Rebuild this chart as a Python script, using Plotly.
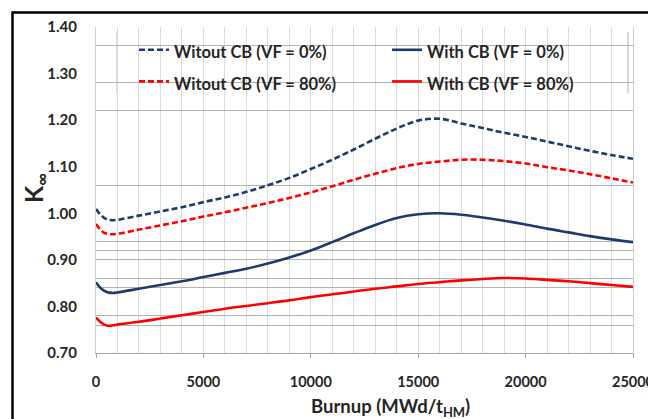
import plotly.graph_objects as go

# Burnup (MWd/tHM)
burnup = [0, 250, 500, 750, 1000, 2000, 3000, 4000, 5000, 6000, 7000, 8000, 9000, 10000,
          11000, 12000, 13000, 14000, 15000, 16000, 17000, 18000, 19000, 20000, 21000,
          22000, 23000, 24000, 25000]

witout_cb_vf0 = [1.009, 0.995, 0.987, 0.985, 0.986, 0.995, 1.004, 1.013, 1.024, 1.034, 1.046,
                 1.060, 1.076, 1.095, 1.115, 1.137, 1.160, 1.182, 1.199, 1.203, 1.193, 1.183,
                 1.173, 1.164, 1.154, 1.144, 1.134, 1.125, 1.117]
witout_cb_vf80 = [0.977, 0.963, 0.956, 0.955, 0.956, 0.965, 0.974, 0.983, 0.993, 1.002, 1.012,
                  1.022, 1.033, 1.045, 1.058, 1.072, 1.085, 1.097, 1.106, 1.111, 1.115, 1.115,
                  1.112, 1.107, 1.099, 1.092, 1.084, 1.075, 1.066]
with_cb_vf0 = [0.852, 0.838, 0.831, 0.829, 0.830, 0.838, 0.846, 0.854, 0.863, 0.872, 0.881,
               0.892, 0.905, 0.920, 0.938, 0.957, 0.975, 0.990, 0.998, 1.000, 0.997, 0.991,
               0.984, 0.976, 0.967, 0.959, 0.951, 0.944, 0.938]
with_cb_vf80 = [0.776, 0.765, 0.759, 0.759, 0.761, 0.767, 0.774, 0.781, 0.788, 0.795, 0.801,
                0.807, 0.813, 0.820, 0.826, 0.832, 0.838, 0.843, 0.848, 0.852, 0.856, 0.859,
                0.861, 0.860, 0.857, 0.854, 0.850, 0.846, 0.842]

series_names = ["Witout CB (VF = 0%)", "Witout CB (VF = 80%)",
                "With CB (VF = 0%)", "With CB (VF = 80%)"]

x_ticks = [0, 5000, 10000, 15000, 20000, 25000]
y_ticks = [0.70, 0.80, 0.90, 1.00, 1.10, 1.20, 1.30, 1.40]
y_ticktext = ["0.70", "0.80", "0.90", "1.00", "1.10", "1.20", "1.30", "1.40"]
grid_y = [0.76, 0.78, 0.84, 0.86, 0.90, 0.92, 0.94, 1.06, 1.22, 1.28, 1.36]

NAVY = "#1F3A6E"
RED = "#FF0000"
FONT = "Lato"
TXT = "#262626"

fig = go.Figure()
styles = [
    (witout_cb_vf0, NAVY, "6px,3px", "legend"),
    (witout_cb_vf80, RED, "6px,3px", "legend"),
    (with_cb_vf0, NAVY, "solid", "legend2"),
    (with_cb_vf80, RED, "solid", "legend2"),
]
for name, (vals, col, dash, leg) in zip(series_names, styles):
    fig.add_trace(go.Scatter(
        x=burnup, y=vals, mode="lines", line_shape="spline",
        line=dict(color=col, width=2.6, dash=dash),
        name=f"<span style='font-size:16.5px'>{name}</span>",
        legend=leg,
    ))

# overlay axis only for the horizontal gridlines
fig.add_trace(go.Scatter(x=[None], y=[None], yaxis="y2", showlegend=False, hoverinfo="skip"))

W, H = 537.0, 326.0
def px(x):
    return (x - 96) / W
def py(y):
    return (353 - y) / H

legend_common = dict(
    orientation="v", yanchor="top", xanchor="left",
    bgcolor="rgba(0,0,0,0)", borderwidth=0,
    font=dict(family=FONT, size=22, weight="bold", color=TXT),
    itemwidth=30, traceorder="normal", tracegroupgap=0,
)

fig.update_layout(
    width=648, height=419,
    margin=dict(l=96, r=15, t=27, b=66, autoexpand=False),
    paper_bgcolor="white", plot_bgcolor="white",
    font=dict(family=FONT, color=TXT),
    xaxis=dict(
        range=[0, 25000], tickvals=x_ticks, ticktext=[str(v) for v in x_ticks],
        showgrid=True, gridcolor="#DCDCDC", gridwidth=1,
        minor=dict(dtick=1000, tick0=0, showgrid=True, gridcolor="#DCDCDC", gridwidth=1),
        showline=True, linecolor="#A6A6A6", linewidth=1,
        ticks="outside", ticklen=4, tickcolor="#A6A6A6",
        tickfont=dict(family=FONT, size=14.5, weight="bold", color=TXT),
        ticklabelstandoff=12, zeroline=False, ticklabeloverflow="allow",
        automargin=False,
    ),
    yaxis=dict(
        range=[0.70, 1.40], tickvals=y_ticks, ticktext=y_ticktext,
        showgrid=False, zeroline=False, showline=True, mirror=True,
        linecolor="#D0D0D0", linewidth=1, ticks="",
        tickfont=dict(family=FONT, size=15, weight="bold", color=TXT),
        ticklabelstandoff=15, automargin=False,
    ),
    yaxis2=dict(
        range=[0.70, 1.40], overlaying="y", side="left", tickvals=grid_y,
        showticklabels=False, showgrid=True, gridcolor="#B4B4B4", gridwidth=1,
        zeroline=False, showline=False, ticks="", automargin=False,
    ),
    showlegend=True,
    legend=dict(x=px(134), y=py(29), **legend_common),
    legend2=dict(x=px(387), y=py(29), **legend_common),
)

# legend box (white with grey side edges)
fig.add_shape(type="rect", xref="paper", yref="paper", x0=px(117), x1=px(628), y0=py(93), y1=py(30),
              fillcolor="white", line=dict(width=0), layer="between")
for xe in (117, 628):
    fig.add_shape(type="line", xref="paper", yref="paper", x0=px(xe), x1=px(xe), y0=py(93), y1=py(32),
                  line=dict(color="#B4B4B4", width=1), layer="between")

# outer frame
fig.add_shape(type="rect", xref="paper", yref="paper", x0=px(12.5), x1=px(700), y0=py(460), y1=py(12.5),
              fillcolor="rgba(0,0,0,0)", line=dict(color="black", width=2.5), layer="above")

fig.add_annotation(text="<b>Burnup (MWd/t<sub>HM</sub>)</b>", xref="paper", yref="paper",
                   x=px(390), y=py(407), showarrow=False, xanchor="center", yanchor="middle",
                   font=dict(family=FONT, size=18.5, color=TXT))
fig.add_annotation(text="<b>K<sub>∞</sub></b>", xref="paper", yref="paper",
                   x=px(35), y=py(188), showarrow=False, textangle=-90,
                   xanchor="center", yanchor="middle",
                   font=dict(family=FONT, size=25, color=TXT))

fig.write_html("out.html")
